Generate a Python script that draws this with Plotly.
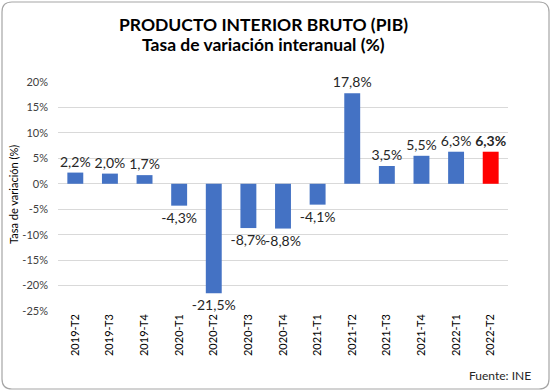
import plotly.graph_objects as go

categories = ["2019-T2", "2019-T3", "2019-T4", "2020-T1", "2020-T2", "2020-T3",
              "2020-T4", "2021-T1", "2021-T2", "2021-T3", "2021-T4", "2022-T1", "2022-T2"]
values = [2.2, 2.0, 1.7, -4.3, -21.5, -8.7, -8.8, -4.1, 17.8, 3.5, 5.5, 6.3, 6.3]
tick_values = [20, 15, 10, 5, 0, -5, -10, -15, -20, -25]
tick_labels = ["20%", "15%", "10%", "5%", "0%", "-5%", "-10%", "-15%", "-20%", "-25%"]

FONT = "Lato, Calibri, Arial, sans-serif"
n = len(categories)
colors = ["#4472C4"] * (n - 1) + ["#FF0000"]
texts = [f"{v:.1f}%".replace(".", ",") for v in values]
texts[-1] = "<b>" + texts[-1] + "</b>"

fig = go.Figure(go.Bar(
    x=categories, y=values, marker=dict(color=colors, line=dict(width=0)),
    text=texts, textposition="outside", cliponaxis=False, constraintext="none",
    textfont=dict(family=FONT, size=14, color="#262626"),
    hoverinfo="skip",
))

W, H = 552, 392
L, R, T, B = 58, 508, 82, 311
ml, mr, mt, mb = L, W - R, T, H - B
pw, ph = R - L, B - T

def px(x):
    return (x - L) / pw

def py(y):
    return (B - y) / ph

# rounded border
x0, x1, y0, y1, r = 2, 549, 2, 389, 10
def P(x, y):
    return f"{px(x):.5f},{py(y):.5f}"
path = (f"M {P(x0 + r, y0)} L {P(x1 - r, y0)} Q {P(x1, y0)} {P(x1, y0 + r)} "
        f"L {P(x1, y1 - r)} Q {P(x1, y1)} {P(x1 - r, y1)} "
        f"L {P(x0 + r, y1)} Q {P(x0, y1)} {P(x0, y1 - r)} "
        f"L {P(x0, y0 + r)} Q {P(x0, y0)} {P(x0 + r, y0)} Z")

fig.update_layout(
    width=W, height=H,
    margin=dict(l=ml, r=mr, t=mt, b=mb, pad=0),
    paper_bgcolor="white", plot_bgcolor="white",
    showlegend=False, bargap=0.54,
    font=dict(family=FONT, color="#404040"),
    shapes=[dict(type="path", xref="paper", yref="paper", path=path,
                 line=dict(color="#A6A6A6", width=1.2), layer="below")],
    xaxis=dict(tickangle=-90, tickfont=dict(family=FONT, size=11, color="#000000"),
               showgrid=False, showline=False, ticks="", ticklen=0),
    yaxis=dict(range=[-25, 20], tickvals=tick_values, ticktext=tick_labels,
               tickfont=dict(family=FONT, size=11, color="#404040"),
               showgrid=True, gridcolor="#D9D9D9", gridwidth=1,
               zeroline=False, showline=False, ticks="", ticklabelstandoff=9),
    annotations=[
        dict(text="<b>PRODUCTO INTERIOR BRUTO (PIB)</b>", x=px(263), y=py(25),
             xanchor="center", yanchor="middle",
             xref="paper", yref="paper", showarrow=False,
             font=dict(family=FONT, size=17.5, color="#000000")),
        dict(text="<b>Tasa de variación interanual (%)</b>", x=px(263), y=py(45),
             xanchor="center", yanchor="middle",
             xref="paper", yref="paper", showarrow=False,
             font=dict(family=FONT, size=17.5, color="#000000")),
        dict(text="Tasa de variación (%)", x=px(13), y=py(195), textangle=-90,
             xanchor="center", yanchor="middle",
             xref="paper", yref="paper", showarrow=False,
             font=dict(family=FONT, size=11, color="#000000")),
        dict(text="Fuente: INE", x=px(533), y=py(375), xanchor="right", yanchor="middle",
             xref="paper", yref="paper", showarrow=False,
             font=dict(family=FONT, size=12, color="#262626")),
    ],
)

fig.write_html(
    "out.html",
    config={"displayModeBar": False},
    post_script="document.body.style.margin='0';document.body.style.overflow='hidden';",
)
